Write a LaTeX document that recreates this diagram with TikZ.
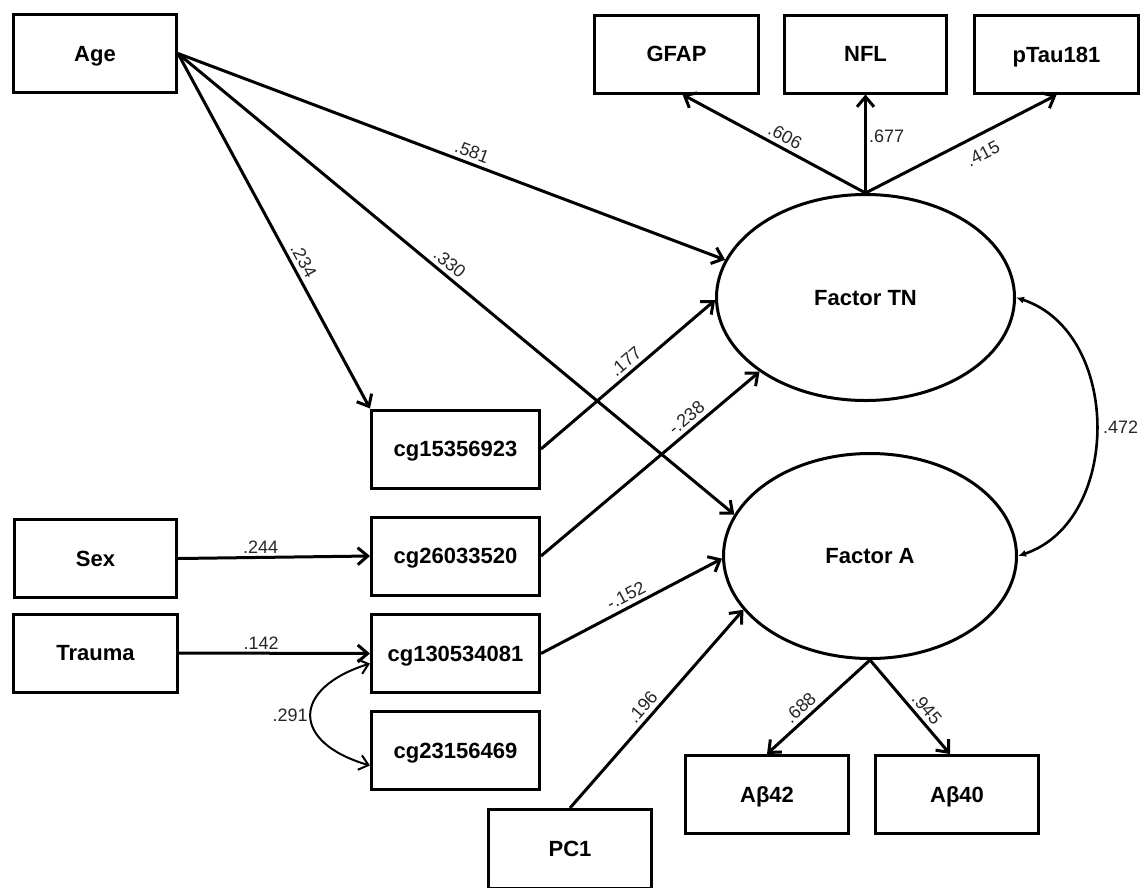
\documentclass[tikz,border=0pt]{standalone}
\usepackage{fontspec}
\setmainfont{Liberation Sans}
\usetikzlibrary{arrows.meta,shapes.geometric}
\begin{document}
\begin{tikzpicture}[x=1pt,y=-1pt,
  box/.style={draw, line width=3pt, minimum width=163pt, minimum height=78pt, inner sep=0pt,
              text height=15.8pt, text depth=0pt,
              font=\bfseries\fontsize{22}{26}\selectfont},
  cgbox/.style={box, minimum width=168pt},
  lat/.style={ellipse, draw, line width=3pt, inner sep=0pt,
              text height=15.8pt, text depth=0pt,
              font=\bfseries\fontsize{22}{26}\selectfont},
  arr/.style={line width=3pt, -{Straight Barb[length=10pt,width=17pt]}},
  dbla/.style={line width=2pt, {Straight Barb[length=9pt,width=15pt]}-{Straight Barb[length=9pt,width=15pt]}},
  dblb/.style={line width=2.6pt, {Latex[length=8pt,width=7pt]}-{Latex[length=8pt,width=7pt]}},
  lbl/.style={font=\fontsize{18}{20}\selectfont, text=black!85, inner sep=4pt, sloped},
  lblh/.style={font=\fontsize{18}{20}\selectfont, text=black!85, inner sep=2pt}
]
\path[use as bounding box] (0,0) rectangle (1148,887);
\clip (0,0) rectangle (1148,887);

% observed boxes
\node[box] (Age) at (95,53.5) {Age};
\node[box, minimum width=164pt] (GFAP) at (676.5,54) {GFAP};
\node[box, minimum width=162pt] (NFL) at (865.5,54) {NFL};
\node[box, minimum width=164pt] (pTau) at (1056.5,54.5) {pTau181};
\node[cgbox] (cg1) at (455.5,449) {cg15356923};
\node[cgbox] (cg2) at (455.5,556) {cg26033520};
\node[cgbox] (cg3) at (455.5,653.5) {cg130534081};
\node[cgbox] (cg4) at (455.5,750.5) {cg23156469};
\node[box, minimum width=162pt] (Sex) at (95.5,558.5) {Sex};
\node[box, minimum width=164pt] (Trauma) at (95.5,653) {Trauma};
\node[box, minimum height=79pt] (PC1) at (570,849) {PC1};
\node[box] (Ab42) at (767,794.5) {Aβ42};
\node[box] (Ab40) at (957,794.5) {Aβ40};

% latent factors
\node[lat, minimum width=298pt, minimum height=206pt] (TN) at (865.5,297.5) {Factor TN};
\node[lat, minimum width=293pt, minimum height=205pt] (FA) at (870,556) {Factor A};

% paths from Age
\draw[arr] (Age.east) -- node[lbl, above, pos=0.53] {.581} (TN.165);
\draw[arr] (Age.east) -- node[lbl, above, pos=0.475] {.330} (FA.163);
\draw[arr] (Age.east) -- node[lbl, above, pos=0.6] {.234} (cg1.north west);

% cg to factors
\draw[arr] (cg1.east) -- node[lbl, above, pos=0.53] {.177} (TN.181);
\draw[arr] (cg2.east) -- node[lbl, above, pos=0.7] {-.238} (TN.215);
\draw[arr] (cg3.east) -- node[lbl, above, pos=0.5] {-.152} (FA.181);
\draw[arr] (PC1.north) -- node[lbl, above, pos=0.47] {.196} (FA.203);

% covariates to cg
\draw[arr] (Sex.east) -- node[lblh, above, pos=0.43] {.244} (cg2.west);
\draw[arr] (Trauma.east) -- node[lblh, above, pos=0.43] {.142} (cg3.west);

% loadings
\draw[arr] (TN.north) -- node[lbl, above, pos=0.47] {.606} ([xshift=6pt]GFAP.south);
\draw[arr] (TN.north) -- node[lblh, right, pos=0.58] {.677} (NFL.south);
\draw[arr] (TN.north) -- node[lbl, below, pos=0.57, inner sep=11pt] {.415} (pTau.south);
\draw[arr] (FA.south) -- node[lbl, above, pos=0.6] {.688} (Ab42.north);
\draw[arr] (FA.south) -- node[lbl, above, pos=0.6] {.945} ([xshift=-7pt]Ab40.north);

% covariances
\draw[dbla] ([yshift=-10pt]cg3.west) .. controls +(-79,25) and +(-79,-23) .. ([yshift=-15pt]cg4.west)
  node[lblh, left, pos=0.5] {.291};
\draw[dblb] (TN.0) .. controls +(106,35) and +(104,-35) .. (FA.0)
  node[lblh, right, pos=0.5, xshift=4pt] {.472};
\end{tikzpicture}
\end{document}
